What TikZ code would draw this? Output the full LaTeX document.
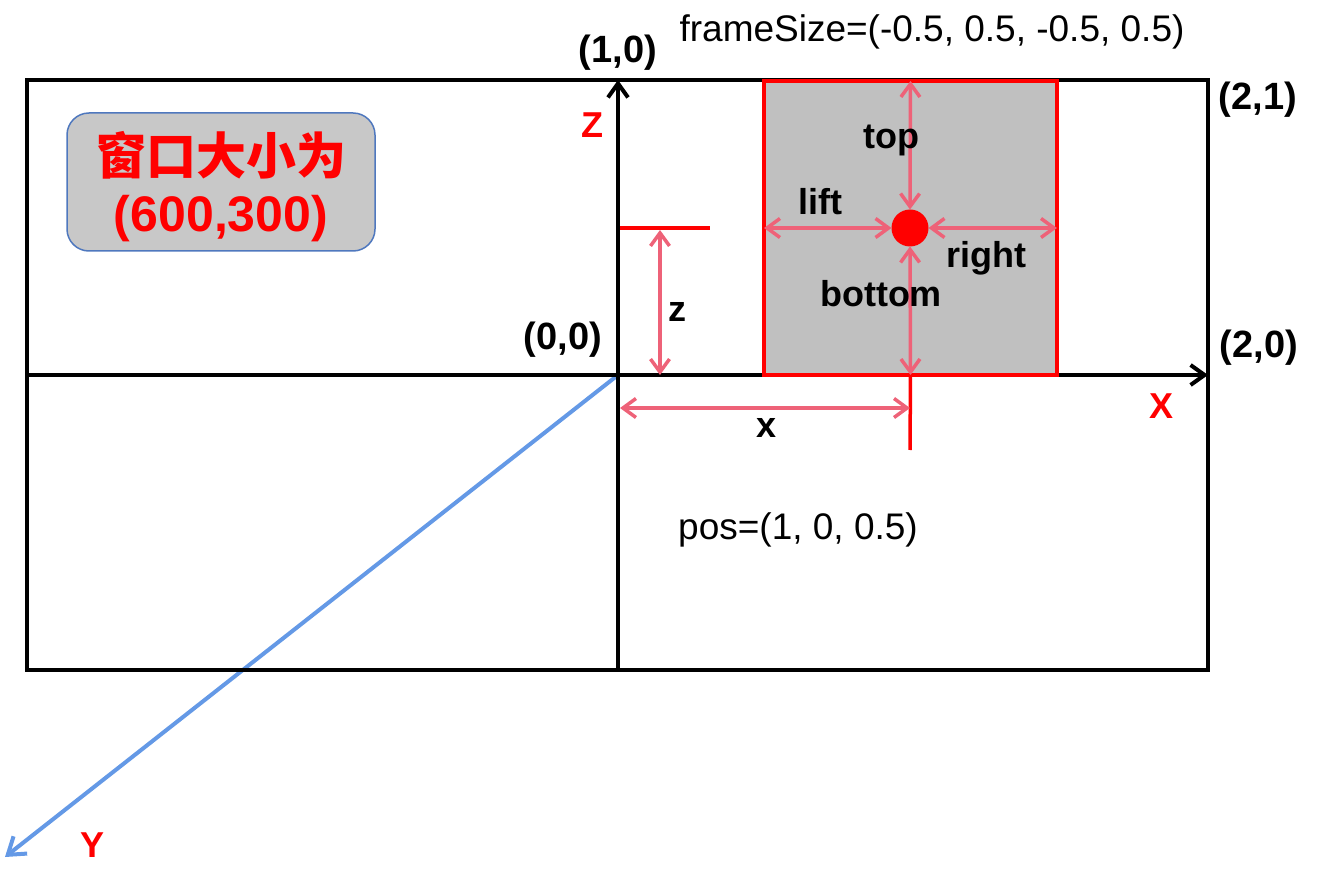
\documentclass[tikz,border=0pt]{standalone}
\usepackage{fontspec}
\setmainfont{Liberation Sans}
\newfontfamily\cjk{Noto Sans CJK SC}
\usepackage{tikz}
\usetikzlibrary{arrows.meta, shapes, positioning}
\usepackage{xcolor}
\definecolor{dimpink}{RGB}{238,98,120}
\definecolor{axisblue}{RGB}{100,153,230}
\definecolor{panelgray}{RGB}{192,192,192}
\definecolor{boxgray}{RGB}{200,200,200}
\definecolor{boxblue}{RGB}{79,120,190}

\begin{document}
\begin{tikzpicture}[
                x=1pt, y=-1pt,
                line join=miter,
                axisline/.style={draw=black, line width=4pt},
                axistip/.style={-{Straight Barb[length=14pt, width=20pt]}},
                dimarrow/.style={draw=dimpink, line width=3.5pt, {Straight Barb[length=13pt, width=19pt]}-{Straight Barb[length=13pt, width=19pt]}},
                redtick/.style={draw=red, line width=3.5pt},
                coordlabel/.style={inner sep=0pt, font=\fontsize{38}{42}\selectfont\bfseries},
                dimlabel/.style={inner sep=0pt, font=\fontsize{36}{40}\selectfont\bfseries},
                axislabel/.style={inner sep=0pt, text=red, font=\fontsize{36}{40}\selectfont\bfseries},
                plainlabel/.style={inner sep=0pt, font=\fontsize{37}{40}\selectfont}
                ]
                \useasboundingbox (0,0) rectangle (1338,874);

                %% Points
                \coordinate (tl) at (27,80);
                \coordinate (br) at (1208,670);
                \coordinate (o) at (618,375);
                \coordinate (xleft) at (27,375);
                \coordinate (xend) at (1208,375);
                \coordinate (zbot) at (618,670);
                \coordinate (zend) at (618,80);
                \coordinate (yend) at (5,857);

                %% Draws
                \draw[axisblue, line width=4pt, -{Straight Barb[length=16pt, width=22pt]}] (o) -- (yend);
                \draw[axisline] (tl) rectangle (br);
                \draw[axisline, axistip] (xleft) -- (xend);
                \draw[axisline, axistip] (zbot) -- (zend);

                        % Frame
\node[rectangle, fill=panelgray, draw=red, line width=3.5pt, outer sep=0pt, minimum width=293pt, minimum height=294pt] (panel) at (910.5,228) {};
\node[circle, fill=red, minimum size=37pt, inner sep=0pt, outer sep=0pt] (eye) at (910,228) {};

\draw[dimarrow] (panel.north) -- (eye.north);
\draw[dimarrow] (eye.south) -- (panel.south);
\draw[dimarrow] (panel.west) -- (eye.west);
\draw[dimarrow] (eye.east) -- (panel.east);

                        % Position
\coordinate (xtick) at (910,450);
\coordinate (zmark) at (620,228);
\coordinate (ztick) at (710,228);
\coordinate (z0) at (660,230);
\coordinate (z1) at (660,375);
\coordinate (x0) at (620,408);
\coordinate (x1) at (910,408);

\draw[redtick] (panel.south) -- (xtick);
\draw[redtick] (zmark) -- (ztick);
\draw[dimarrow] (z0) -- (z1);
\draw[dimarrow] (x0) -- (x1);

%% Labels
                    \node[coordlabel] (lblonezero) at (618,53) {(1,0)};
                    \node[coordlabel] (lblzero) at (563,340) {(0,0)};
                    \node[coordlabel] (lbltwoone) at (1258,100) {(2,1)};
                    \node[coordlabel] (lbltwozero) at (1259,348) {(2,0)};
                    \node[plainlabel] (framesize) at (932,32) {frameSize=(-0.5, 0.5, -0.5, 0.5)};
                    \node[plainlabel] (pos) at (798,530) {pos=(1, 0, 0.5)};
                    \node[axislabel] (lblz) at (592,125) {Z};
                    \node[axislabel] (lblx) at (1161,406) {X};
                    \node[axislabel] (lbly) at (93,845) {Y};
                    \node[dimlabel] (top) at (891,140) {top};
                    \node[dimlabel] (lift) at (820,202) {lift};
                    \node[dimlabel] (right) at (986,258) {right};
                    \node[dimlabel] (bottom) at (881,294) {bottom};
                    \node[dimlabel] (zdist) at (677,312) {z};
                    \node[dimlabel] (xdist) at (766,428) {x};

%% Caption
                    \node[rectangle, rounded corners=22pt, fill=boxgray, draw=boxblue, line width=1.5pt, minimum width=308pt, minimum height=138pt] (winsize) at (221,182) {};
                    \node[align=center, text=red, inner sep=0pt, font=\bfseries\fontsize{50}{57}\selectfont] (wintext) at ([yshift=-5pt]winsize.center)
                    {{\cjk\bfseries 窗口大小为}\\(600,300)};
                    \end{tikzpicture}
\end{document}
